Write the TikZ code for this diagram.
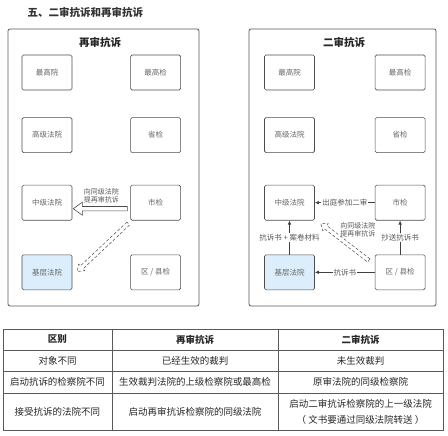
\documentclass[tikz,border=0pt]{standalone}
\usepackage{fontspec}
\setmainfont{Noto Sans CJK SC}
\usetikzlibrary{positioning,calc,arrows.meta}
\definecolor{basefill}{HTML}{DCEEFB}

% hollow block arrow: style, from, to, half width, head half width, head length
\newcommand\hollowarrow[6]{%
  \draw[#1] ($(#2)!#4!-90:(#3)$)
    -- ($(#3)!#6!(#2)!#4!90:(#2)$)
    -- ($(#3)!#6!(#2)!#5!90:(#2)$)
    -- (#3)
    -- ($(#3)!#6!(#2)!#5!-90:(#2)$)
    -- ($(#3)!#6!(#2)!#4!-90:(#2)$)
    -- ($(#2)!#4!90:(#3)$) -- cycle;}

\tikzset{
  court/.style={draw=black!70,line width=0.6pt,rounded corners=1.5pt,minimum width=50pt,minimum height=35pt,
    inner sep=0pt,font=\fontsize{7.5}{8}\selectfont,text=black!60},
  base/.style={court,fill=basefill},
  panel/.style={draw=black!65,line width=0.8pt,rounded corners=2pt},
  ptitle/.style={font=\bfseries\fontsize{10.5}{12}\selectfont,text=black!85},
  conn/.style={draw=black!75,line width=0.7pt,-{Latex[length=4pt,width=3.5pt]}},
  lab/.style={fill=white,inner sep=1pt,font=\fontsize{7.5}{8}\selectfont,text=black!65},
  note/.style={align=center,inner sep=0pt,font=\fontsize{7}{8}\selectfont,text=black!65},
  tab/.style={draw=black!65,line width=0.6pt},
  cell/.style={align=center,inner sep=0pt,font=\fontsize{9.5}{16}\selectfont,text=black!85},
}

\begin{document}
\begin{tikzpicture}[x=1pt,y=1pt]
  \useasboundingbox (0,0) rectangle (448,-436);

  \node[anchor=west,font=\bfseries\fontsize{10.5}{12}\selectfont,text=black!80] (title) at (24,-12) {五、二审抗诉和再审抗诉};

  % left panel
  \draw[panel] (8,-29) rectangle (199,-306);
  \node[ptitle] (ltitle) at (100,-42) {再审抗诉};
  \node[court] (lzgy) at (47,-72.5) {最高院};
  \node[court,right=58pt of lzgy] (lzgj) {最高检};
  \node[court,below=27pt of lzgy] (lgj) {高级法院};
  \node[court,below=27pt of lzgj] (lsj) {省检};
  \node[court,below=32pt of lgj] (lzj) {中级法院};
  \node[court,below=32pt of lsj] (lshj) {市检};
  \node[base,below=34pt of lzj] (ljc) {基层法院};
  \node[court,below=34pt of lshj] (lqx) {区 / 县检};

  \coordinate (la) at ($(lshj.west)+(-3,-6)$);
  \coordinate (lb) at ($(lzj.east)+(1,-6)$);
  \hollowarrow{draw=black!70,line width=0.6pt,fill=white}{la}{lb}{2.2pt}{6.5pt}{9pt}
  \node[note] (lnote) at ($(lzj.east)!0.5!(lshj.west)+(0,7)$) {向同级法院\\提再审抗诉};
  \coordinate (lc) at ($(lshj.south west)+(-2,-3)$);
  \coordinate (ld) at ($(ljc.north east)+(5,-17)$);
  \hollowarrow{draw=black!70,line width=0.5pt,densely dashed}{lc}{ld}{2pt}{4.5pt}{6pt}

  % right panel
  \draw[panel] (249,-29) rectangle (436,-306);
  \node[ptitle] (rtitle) at (344,-42) {二审抗诉};
  \node[court] (rzgy) at (289.5,-72.5) {最高院};
  \node[court,right=60pt of rzgy] (rzgj) {最高检};
  \node[court,below=27pt of rzgy] (rgj) {高级法院};
  \node[court,below=27pt of rzgj] (rsj) {省检};
  \node[court,below=32pt of rgj] (rzj) {中级法院};
  \node[court,below=32pt of rsj] (rshj) {市检};
  \node[base,below=34pt of rzj] (rjc) {基层法院};
  \node[court,below=34pt of rshj] (rqx) {区 / 县检};

  \draw[conn] (rshj) -- node[lab] {出庭参加二审} (rzj);
  \draw[conn] (rjc) -- node[lab] {抗诉书 + 案卷材料} (rzj);
  \draw[conn] (rqx) -- node[lab] {抄送抗诉书} (rshj);
  \draw[conn] (rqx) -- node[lab] {抗诉书} (rjc);

  \coordinate (rc) at ($(rqx.north west)+(-6,-6)$);
  \coordinate (rd) at ($(rzj.south east)+(6,-3)$);
  \hollowarrow{draw=black!70,line width=0.5pt,densely dashed}{rc}{rd}{2pt}{4.5pt}{6pt}
  \node[note] (rnote) at ($(rzj.south east)+(43,-9)$) {向同级法院\\提再审抗诉};

  % table
  \draw[tab] (3,-329) rectangle (443,-430);
  \draw[tab] (3,-350) -- (443,-350);
  \draw[tab] (3,-371) -- (443,-371);
  \draw[tab] (3,-393) -- (443,-393);
  \draw[tab] (112,-329) -- (112,-430);
  \draw[tab] (278,-329) -- (278,-430);

  \node[cell,font=\bfseries\fontsize{9.5}{16}\selectfont] (h1) at (57.5,-339.5) {区别};
  \node[cell,font=\bfseries\fontsize{9.5}{16}\selectfont] (h2) at (195,-339.5) {再审抗诉};
  \node[cell,font=\bfseries\fontsize{9.5}{16}\selectfont] (h3) at (360.5,-339.5) {二审抗诉};
  \node[cell] (a1) at (57.5,-360.5) {对象不同};
  \node[cell] (a2) at (195,-360.5) {已经生效的裁判};
  \node[cell] (a3) at (360.5,-360.5) {未生效裁判};
  \node[cell] (b1) at (57.5,-382) {启动抗诉的检察院不同};
  \node[cell] (b2) at (195,-382) {生效裁判法院的上级检察院或最高检};
  \node[cell] (b3) at (360.5,-382) {原审法院的同级检察院};
  \node[cell] (c1) at (57.5,-411.5) {接受抗诉的法院不同};
  \node[cell] (c2) at (195,-411.5) {启动再审抗诉检察院的同级法院};
  \node[cell] (c3) at (360.5,-411.5) {启动二审抗诉检察院的上一级法院\\（ 文书要通过同级法院转送 ）};
\end{tikzpicture}
\end{document}
